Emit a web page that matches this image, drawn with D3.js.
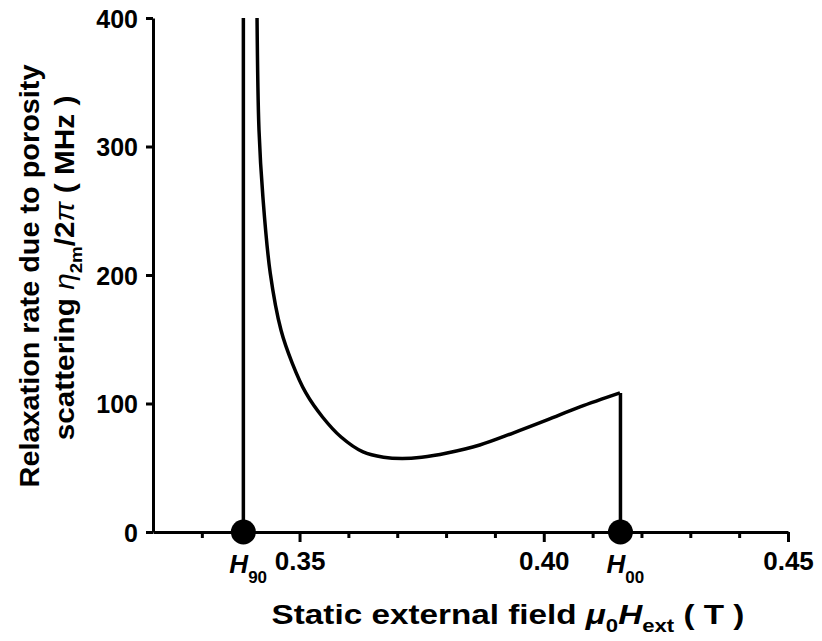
<!DOCTYPE html>
<html>
<head>
<meta charset="utf-8">
<script src="https://cdn.jsdelivr.net/npm/d3@7"></script>
<style>
  body { margin: 0; background: #fff; }
  text { font-family: "Liberation Sans", Arial, sans-serif; font-weight: bold; fill: #000; }
</style>
</head>
<body>
<svg id="chart" width="822" height="641"></svg>
<script>
// values
var fieldT = [0.3413, 0.3417, 0.3425, 0.3440, 0.3462, 0.3485, 0.3513, 0.3547, 0.3585,
              0.3630, 0.3672, 0.3710, 0.3750, 0.3802, 0.3869, 0.3937, 0.4007, 0.4074, 0.4156];
var rateMHz = [400, 312.8, 260.7, 201.6, 157.2, 131.5, 108.2, 89.5, 73.9,
               62.3, 58.2, 57.2, 58.2, 61.5, 67.7, 77.0, 87.2, 97.3, 108.2];
var markerNames = ["90", "00"];
var markerField = [0.3385, 0.4157];
var xMajorTicks = [0.35, 0.40, 0.45];
var xMinorTicks = [0.33, 0.34, 0.36, 0.37, 0.38, 0.39, 0.41, 0.42, 0.43, 0.44];
var yTicks = [0, 100, 200, 300, 400];

var svg = d3.select("#chart");

var x = d3.scaleLinear().domain([0.32, 0.45]).range([153, 788]);
var y = d3.scaleLinear().domain([0, 400]).range([532, 18]);

// squeeze/stretch a title horizontally to the width seen in the picture
function fitWidth(sel, width) {
    var w = sel.node().getComputedTextLength();
    sel.attr("transform", "scale(" + (width / w) + ",1)");
}

// y axis
var yAxis = svg.append("g")
    .attr("transform", "translate(" + x(0.32) + ",0)")
    .call(d3.axisLeft(y).tickValues(yTicks).tickSize(7).tickSizeOuter(0).tickPadding(8));
yAxis.selectAll("text").style("font-size", "25px").attr("dy", "0.36em");

// x axis minor + major ticks
var xAxisMinor = svg.append("g")
    .attr("transform", "translate(0," + y(0) + ")")
    .call(d3.axisBottom(x).tickValues(xMinorTicks).tickSize(6).tickSizeOuter(0).tickFormat(""));
var xAxis = svg.append("g")
    .attr("transform", "translate(0," + y(0) + ")")
    .call(d3.axisBottom(x).tickValues(xMajorTicks).tickSize(10).tickSizeOuter(0).tickPadding(10)
        .tickFormat(d3.format(".2f")));
xAxis.selectAll("text").style("font-size", "26px").attr("dy", "0.71em");

svg.selectAll(".domain, .tick line")
    .attr("stroke", "#000").attr("stroke-width", 3);
xAxisMinor.select(".domain").remove();

// vertical lines at the two critical fields
svg.selectAll("line.crit")
    .data(markerField)
    .enter().append("line").attr("class", "crit")
    .attr("x1", function (d) { return x(d); })
    .attr("x2", function (d) { return x(d); })
    .attr("y1", y(0))
    .attr("y2", function (d, i) { return i == 0 ? y(400) : y(rateMHz[rateMHz.length - 1]); })
    .attr("stroke", "#000").attr("stroke-width", 3.5);

// relaxation rate curve
var line = d3.line()
    .x(function (d) { return x(d[0]); })
    .y(function (d) { return y(d[1]); })
    .curve(d3.curveCatmullRom.alpha(0.5));
svg.append("path")
    .datum(d3.zip(fieldT, rateMHz))
    .attr("d", line)
    .attr("fill", "none").attr("stroke", "#000").attr("stroke-width", 3.5)
    .attr("stroke-linejoin", "round");

// dots on the axis
svg.selectAll("circle.dot")
    .data(markerField)
    .enter().append("circle").attr("class", "dot")
    .attr("cx", function (d) { return x(d); })
    .attr("cy", y(0))
    .attr("r", 12.5)
    .attr("fill", "#000");

// H90 / H00 labels
var hLab = svg.selectAll("text.hlab")
    .data(markerField)
    .enter().append("text").attr("class", "hlab")
    .attr("x", function (d) { return x(d) - 14; })
    .attr("y", 573)
    .style("font-size", "26px");
hLab.append("tspan").style("font-style", "italic").text("H");
hLab.append("tspan").attr("dy", 10).style("font-size", "17px")
    .text(function (d, i) { return markerNames[i]; });

// x title
var xtG = svg.append("g").attr("transform", "translate(508,624)");
var xt = xtG.append("text")
    .attr("text-anchor", "middle")
    .style("font-size", "27px");
xt.append("tspan").text("Static external field ");
xt.append("tspan").style("font-style", "italic").text("\u03bc");
xt.append("tspan").attr("dy", 8).style("font-size", "18px").text("0");
xt.append("tspan").attr("dy", -8).style("font-style", "italic").text("H");
xt.append("tspan").attr("dy", 8).style("font-size", "18px").text("ext");
xt.append("tspan").attr("dy", -8).text(" ( T )");
fitWidth(xt, 473);

// y title, two lines
var yt1G = svg.append("g").attr("transform", "translate(39,276) rotate(-90)");
var yt1 = yt1G.append("text")
    .attr("text-anchor", "middle")
    .style("font-size", "27px")
    .text("Relaxation rate due to porosity");
fitWidth(yt1, 423);

var yt2G = svg.append("g").attr("transform", "translate(74,268) rotate(-90)");
var yt2 = yt2G.append("text")
    .attr("text-anchor", "middle")
    .style("font-size", "27px");
yt2.append("tspan").text("scattering ");
yt2.append("tspan").style("font-style", "italic").style("font-weight", "normal").text("\u03b7");
yt2.append("tspan").attr("dy", 8).style("font-size", "17px").text("2m");
yt2.append("tspan").attr("dy", -8).text("/2");
yt2.append("tspan").style("font-style", "italic").style("font-weight", "normal").text("\u03c0");
yt2.append("tspan").text(" ( MHz )");
fitWidth(yt2, 345);
</script>
</body>
</html>
